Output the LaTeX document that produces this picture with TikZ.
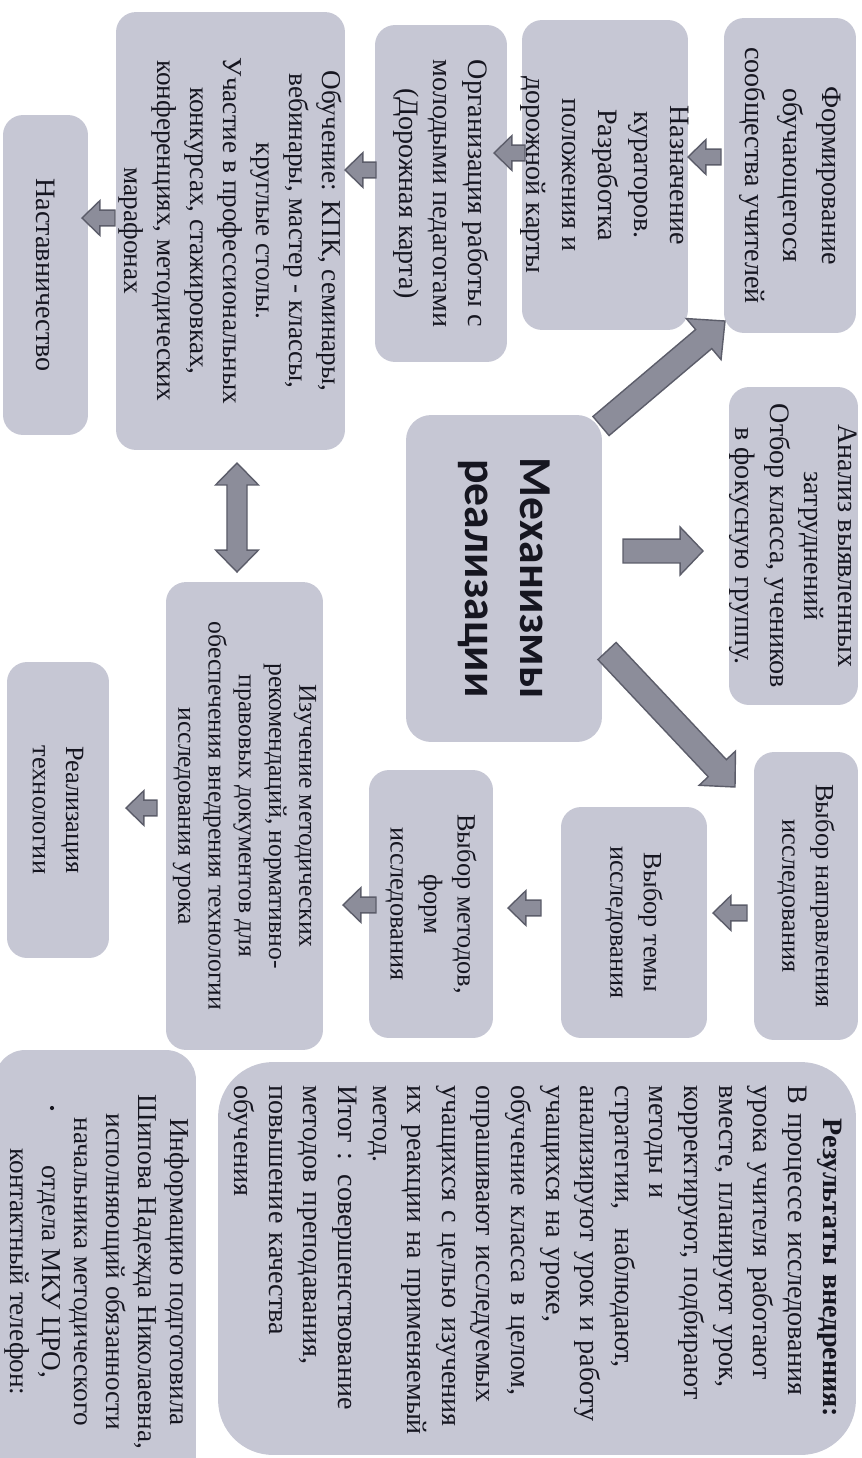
\documentclass[tikz,border=0pt]{standalone}
\usepackage{fontspec}
\setmainfont{Liberation Serif}
\newfontfamily\mechfont{Carlito}
\usetikzlibrary{calc}
\definecolor{boxfill}{RGB}{198,199,212}
\definecolor{arrowfill}{RGB}{140,141,154}
\definecolor{arrowline}{RGB}{92,93,106}
\definecolor{ink}{RGB}{22,22,32}
\newcommand{\fs}[2]{\fontsize{#1}{#2}\selectfont}
% block arrow: #1 prefix, #2 from, #3 to, #4 half shaft, #5 half head, #6 head length
\newcommand{\blockarrow}[6]{%
  \coordinate (#1h) at ($(#3)!#6!(#2)$);
  \path[barrow] ($(#2)!#4!90:(#3)$) -- ($(#1h)!#4!90:(#3)$) -- ($(#1h)!#5!90:(#3)$) -- (#3)
    -- ($(#1h)!#5!-90:(#3)$) -- ($(#1h)!#4!-90:(#3)$) -- ($(#2)!#4!-90:(#3)$) -- cycle;}
\newcommand{\dblarrow}[6]{%
  \coordinate (#1a) at ($(#2)!#6!(#3)$);
  \coordinate (#1b) at ($(#3)!#6!(#2)$);
  \path[barrow] (#2) -- ($(#1a)!#5!-90:(#2)$) -- ($(#1a)!#4!-90:(#2)$) -- ($(#1b)!#4!90:(#3)$)
    -- ($(#1b)!#5!90:(#3)$) -- (#3) -- ($(#1b)!#5!-90:(#3)$) -- ($(#1b)!#4!-90:(#3)$)
    -- ($(#1a)!#4!90:(#2)$) -- ($(#1a)!#5!90:(#2)$) -- cycle;}
\begin{document}
\begin{tikzpicture}[x=0.02cm, y=-0.02cm,
  bx/.style={fill=boxfill, rounded corners=0.4cm, rotate=-90, inner sep=0pt, draw=none},
  tx/.style={rotate=-90, align=center, text=ink, inner sep=0pt, font=\fs{16}{20.5}},
  barrow/.style={fill=arrowfill, draw=arrowline, line width=0.8pt, line join=miter}]
\useasboundingbox (0,0) rectangle (862,1458);

% ---- top row (left of diagram)
\node[bx, minimum width=6.3cm, minimum height=2.64cm] (A1) at (790,175.5) {};
\node[tx, font=\fs{16}{22}] (A1t) at (A1.center) {Формирование\\обучающегося\\сообщества учителей};

\node[bx, minimum width=6.2cm, minimum height=3.32cm] (A2) at (605,175) {};
\node[tx] (A2t) at (A2.center) {Назначение\\кураторов.\\Разработка\\положения и\\дорожной карты};

\node[bx, minimum width=6.74cm, minimum height=2.64cm] (A3) at (441,193.5) {};
\node[tx, font=\fs{16}{19.5}] (A3t) at (A3.center) {Организация работы с\\молодыми педагогами\\(Дорожная карта)};

\node[bx, minimum width=8.76cm, minimum height=4.58cm] (A4) at (230.5,231) {};
\node[tx, font=\fs{15.5}{18.8}] (A4t) at (A4.center) {Обучение: КПК, семинары,\\вебинары, мастер - классы,\\круглые столы.\\Участие в профессиональных\\конкурсах, стажировках,\\конференциях, методических\\марафонах};

\node[bx, minimum width=6.4cm, minimum height=1.7cm] (A5) at (45.5,275) {};
\node[tx] (A5t) at (A5.center) {Наставничество};

% ---- middle
\node[bx, minimum width=6.36cm, minimum height=2.58cm] (B1) at (793.5,546) {};
\node[tx, font=\fs{16}{19.5}] (B1t) at (B1.center) {Анализ выявленных\\затруднений\\Отбор класса, учеников\\в фокусную группу.};

\node[bx, rounded corners=0.5cm, minimum width=6.54cm, minimum height=3.92cm] (M) at (504,578.5) {};
\node[tx, font=\mechfont\bfseries\fs{26}{31}] (Mt) at (M.center) {Механизмы\\реализации};

% ---- bottom row (right of diagram)
\node[bx, minimum width=5.76cm, minimum height=2.08cm] (C1) at (806,896) {};
\node[tx, font=\fs{15}{19}] (C1t) at (C1.center) {Выбор направления\\исследования};

\node[bx, minimum width=4.62cm, minimum height=2.92cm] (C2) at (634,922.5) {};
\node[tx, font=\fs{15}{19}] (C2t) at (C2.center) {Выбор темы\\исследования};

\node[bx, minimum width=5.36cm, minimum height=2.48cm] (C3) at (431,904) {};
\node[tx, font=\fs{15}{19}] (C3t) at (C3.center) {Выбор методов,\\форм\\исследования};

\node[bx, minimum width=9.36cm, minimum height=3.14cm] (C4) at (244.5,816) {};
\node[tx, font=\fs{14.6}{17.2}] (C4t) at (C4.center) {Изучение методических\\рекомендаций, нормативно-\\правовых документов для\\обеспечения внедрения технологии\\исследования урока};

\node[bx, minimum width=5.92cm, minimum height=2.04cm] (C5) at (58,810) {};
\node[tx, font=\fs{15}{19}] (C5t) at (C5.center) {Реализация\\технологии};

% ---- results
\node[bx, rounded corners=1.1cm, minimum width=7.86cm, minimum height=12.76cm] (D1) at (537,1258.5) {};
\node[tx, align=left, text width=7.3cm, font=\fs{16}{19.7}] (D1t) at (535,1268) {\makebox[7.3cm]{\textbf{Результаты внедрения:}}\\
В процессе исследования\\
урока учителя работают\\
вместе, планируют урок,\\
корректируют, подбирают\\
методы и\\
стратегии,\ \ наблюдают,\\
анализируют урок и работу\\
учащихся на уроке,\\
обучение класса в целом,\\
опрашивают исследуемых\\
учащихся с целью изучения\\
их реакции на применяемый\\
метод.\\
Итог : совершенствование\\
методов преподавания,\\
повышение качества\\
обучения};

\node[bx, rounded corners=0.6cm, minimum width=9cm, minimum height=4.02cm] (D2) at (95.5,1275) {};
\node[tx, font=\fs{15.5}{18.2}] (D2t) at (97,1272) {Информацию подготовила\\Шипова Надежда Николаевна,\\исполняющий обязанности\\начальника методического\\отдела МКУ ЦРО,\\контактный телефон:};
\fill[ink] (52,1108) circle (1.2pt);

% ---- connectors
\coordinate (s1) at (601,426); \coordinate (e1) at (725,321);
\blockarrow{k1}{s1}{e1}{7.1pt}{15.3pt}{15.9pt}
\coordinate (s2) at (623,551); \coordinate (e2) at (703,551);
\blockarrow{k2}{s2}{e2}{6.8pt}{13.6pt}{13pt}
\coordinate (s3) at (607,651); \coordinate (e3) at (735,787);
\blockarrow{k3}{s3}{e3}{7.1pt}{14.2pt}{14.7pt}
\coordinate (s4) at (237,463); \coordinate (e4) at (237,572);
\dblarrow{k4}{s4}{e4}{5.7pt}{12.2pt}{12.5pt}

\coordinate (a12s) at (721,157); \coordinate (a12e) at (688,157);
\blockarrow{a12}{a12s}{a12e}{4.5pt}{9.9pt}{10.2pt}
\coordinate (a23s) at (525,153); \coordinate (a23e) at (494,153);
\blockarrow{a23}{a23s}{a23e}{4.5pt}{9.9pt}{10.2pt}
\coordinate (a34s) at (376,170); \coordinate (a34e) at (345,170);
\blockarrow{a34}{a34s}{a34e}{4.5pt}{9.9pt}{10.2pt}
\coordinate (a45s) at (115,218); \coordinate (a45e) at (82,218);
\blockarrow{a45}{a45s}{a45e}{4.5pt}{9.9pt}{10.2pt}

\coordinate (c12s) at (747,913); \coordinate (c12e) at (713,913);
\blockarrow{c12}{c12s}{c12e}{4.5pt}{9.9pt}{10.2pt}
\coordinate (c23s) at (541,908); \coordinate (c23e) at (508,908);
\blockarrow{c23}{c23s}{c23e}{4.5pt}{9.9pt}{10.2pt}
\coordinate (c34s) at (376,905); \coordinate (c34e) at (343,905);
\blockarrow{c34}{c34s}{c34e}{4.5pt}{9.9pt}{10.2pt}
\coordinate (c45s) at (157,808); \coordinate (c45e) at (126,808);
\blockarrow{c45}{c45s}{c45e}{4.5pt}{9.9pt}{10.2pt}
\end{tikzpicture}
\end{document}
